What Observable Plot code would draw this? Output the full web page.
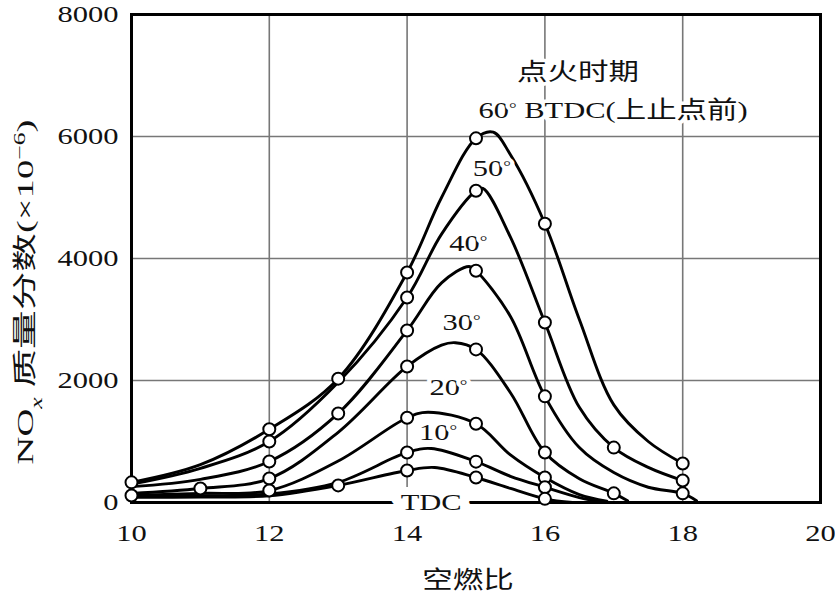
<!DOCTYPE html>
<html>
<head>
<meta charset="utf-8">
<script src="https://cdn.jsdelivr.net/npm/d3@7"></script>
<script src="https://cdn.jsdelivr.net/npm/@observablehq/plot@0.6"></script>
<style>
  html, body { margin: 0; padding: 0; background: #fff; }
  #chart svg { display: block; }
</style>
</head>
<body>
<div id="chart"></div>
<script>
// ---- data (air-fuel ratio vs NOx, ppm) ----
const seriesNames = ["60°", "50°", "40°", "30°", "20°", "10°", "TDC"];

const afr60 = [10, 11, 12, 13, 14, 14.5, 15, 15.25, 15.5, 16, 16.5, 17, 17.5, 18];
const nox60 = [330, 620, 1200, 2030, 3770, 5000, 5970, 6070, 5700, 4570, 3000, 1600, 1000, 640];
const dot60 = [1, 0, 1, 1, 1, 0, 1, 0, 0, 1, 0, 0, 0, 1];

const afr50 = [10, 11, 12, 13, 14, 14.5, 15, 15.1, 15.5, 16, 16.5, 17, 17.5, 18];
const nox50 = [300, 560, 1000, 1970, 3360, 4400, 5110, 5150, 4350, 2950, 1560, 900, 575, 360];
const dot50 = [0, 0, 1, 0, 1, 0, 1, 0, 0, 1, 0, 1, 0, 1];

const afr40 = [10, 11, 12, 13, 14, 14.5, 14.9, 15, 15.5, 16, 16.5, 17, 17.5, 18, 18.2];
const nox40 = [260, 380, 672, 1460, 2820, 3600, 3870, 3800, 3050, 1740, 900, 490, 250, 150, 30];
const dot40 = [0, 0, 1, 1, 1, 0, 0, 1, 0, 1, 0, 0, 0, 1, 0];

const afr30 = [10, 11, 12, 13, 14, 14.5, 14.7, 15, 15.5, 16, 16.5, 17, 17.2];
const nox30 = [150, 230, 393, 1150, 2230, 2580, 2620, 2510, 1800, 820, 390, 150, 30];
const dot30 = [0, 1, 1, 0, 1, 0, 0, 1, 0, 1, 0, 1, 0];

const afr20 = [10, 11, 12, 13, 14, 14.3, 15, 15.5, 16, 16.5, 16.9];
const nox20 = [115, 150, 196, 680, 1390, 1480, 1290, 780, 410, 130, 20];
const dot20 = [1, 0, 1, 0, 1, 0, 1, 0, 1, 0, 0];

const afr10 = [10, 11, 12, 13, 14, 14.35, 15, 15.5, 16, 16.5, 16.8];
const nox10 = [100, 110, 140, 330, 820, 885, 670, 430, 250, 80, 10];
const dot10 = [0, 0, 0, 0, 1, 0, 1, 0, 1, 0, 0];

const afrTDC = [10, 11, 12, 13, 14, 14.4, 15, 15.5, 16, 16.4];
const noxTDC = [85, 90, 110, 280, 525, 574, 410, 230, 60, 0];
const dotTDC = [0, 0, 0, 1, 1, 0, 1, 0, 1, 0];

const xTicks = [10, 12, 14, 16, 18, 20];
const yTicks = [0, 2000, 4000, 6000, 8000];
const xGrid = [12, 14, 16, 18];
const yGrid = [2000, 4000, 6000];

const annoText = ["点火时期", "60° BTDC(上止点前)", "50°", "40°", "30°", "20°", "10°"];
const annoX = [16.48, 16.99, 15.23, 14.89, 14.79, 14.6, 14.45];
const annoY = [7050, 6426, 5475, 4246, 2950, 1885, 1150];
const tdcLabel = { text: "TDC", x: 14.35, y: 0 };

const xTitle = "空燃比";

// ---- build table ----
const seriesData = [
  [afr60, nox60, dot60], [afr50, nox50, dot50], [afr40, nox40, dot40],
  [afr30, nox30, dot30], [afr20, nox20, dot20], [afr10, nox10, dot10],
  [afrTDC, noxTDC, dotTDC]
];
const rows = [];
seriesData.forEach(([xs, ys, ds], i) => {
  xs.forEach((x, j) => rows.push({ series: seriesNames[i], x, y: ys[j], marked: ds[j] === 1 }));
});
const annos = annoText.map((t, i) => ({ text: t, x: annoX[i], y: annoY[i] }));

const FONT = "'Liberation Serif', 'Times New Roman', 'Noto Sans CJK SC', serif";
const INK = "#111";

const chart = Plot.plot({
  width: 835,
  height: 601,
  marginLeft: 131,
  marginRight: 15,
  marginTop: 14,
  marginBottom: 99,
  style: { fontFamily: FONT, fontSize: "24px", background: "white", overflow: "visible" },
  x: { domain: [10, 20] },
  y: { domain: [0, 8000] },
  marks: [
    Plot.gridX(xGrid, { stroke: "#777", strokeOpacity: 1, strokeWidth: 1.6 }),
    Plot.gridY(yGrid, { stroke: "#777", strokeOpacity: 1, strokeWidth: 1.6 }),
    Plot.frame({ stroke: "black", strokeWidth: 3 }),
    Plot.axisX({ ticks: xTicks, tickSize: 0, tickPadding: 21, tickFormat: d => String(d), label: null, fontSize: 24, fill: INK }),
    Plot.axisY({ ticks: yTicks, tickSize: 0, tickPadding: 13, tickFormat: d => String(d), label: null, fontSize: 24, fill: INK }),
    Plot.line(rows, { x: "x", y: "y", z: "series", curve: "catmull-rom", stroke: "black", strokeWidth: 2.9 }),
    Plot.dot(rows.filter(d => d.marked), { x: "x", y: "y", r: 6, fill: "white", stroke: "black", strokeWidth: 2 }),
    Plot.text(annos, { x: "x", y: "y", text: "text", fontSize: 24, fill: INK, stroke: "white", strokeWidth: 7, paintOrder: "stroke", textAnchor: "middle" }),
    Plot.text([tdcLabel], { x: "x", y: "y", text: "text", fontSize: 24, fill: INK, stroke: "white", strokeWidth: 16, paintOrder: "stroke", textAnchor: "middle" })
  ]
});

document.getElementById("chart").appendChild(chart);

const svg = d3.select(chart);

// x-axis title
svg.append("text")
  .attr("x", 468).attr("y", 580).attr("dy", "0.35em")
  .attr("text-anchor", "middle")
  .attr("font-family", FONT).attr("font-size", 24).attr("fill", INK)
  .text(xTitle);

// y-axis title with subscript / superscript
const yt = svg.append("text")
  .attr("class", "ytitle")
  .attr("transform", "translate(25,292) rotate(-90)")
  .attr("dy", "0.35em")
  .attr("text-anchor", "middle")
  .attr("font-family", FONT).attr("font-size", 24).attr("fill", INK);
yt.append("tspan").text("NO");
yt.append("tspan").attr("font-size", 16).attr("font-style", "italic").attr("baseline-shift", "sub").text("x");
yt.append("tspan").text(" 质量分数(×10");
yt.append("tspan").attr("font-size", 16).attr("baseline-shift", "super").text("−6");
yt.append("tspan").text(")");

// small raised degree signs, as in the reference
svg.selectAll("text").each(function () {
  const el = this;
  if (el.querySelector("tspan")) return;
  const t = el.textContent;
  if (!t.includes("°")) return;
  const parts = t.split("°");
  el.textContent = "";
  parts.forEach((p, i) => {
    if (p) {
      const s = document.createElementNS("http://www.w3.org/2000/svg", "tspan");
      s.textContent = p;
      el.appendChild(s);
    }
    if (i < parts.length - 1) {
      const d = document.createElementNS("http://www.w3.org/2000/svg", "tspan");
      d.setAttribute("font-size", 15);
      d.setAttribute("baseline-shift", "35%");
      d.textContent = "°";
      el.appendChild(d);
    }
  });
});

// horizontally widened lettering, as in the reference
svg.selectAll("text").each(function () {
  const el = this;
  if (el.classList.contains("ytitle")) {
    el.setAttribute("textLength", 345);
    el.setAttribute("lengthAdjust", "spacingAndGlyphs");
    return;
  }
  const len = el.getComputedTextLength();
  if (len > 0) {
    el.setAttribute("textLength", (len * 1.27).toFixed(1));
    el.setAttribute("lengthAdjust", "spacingAndGlyphs");
  }
});
</script>
</body>
</html>
